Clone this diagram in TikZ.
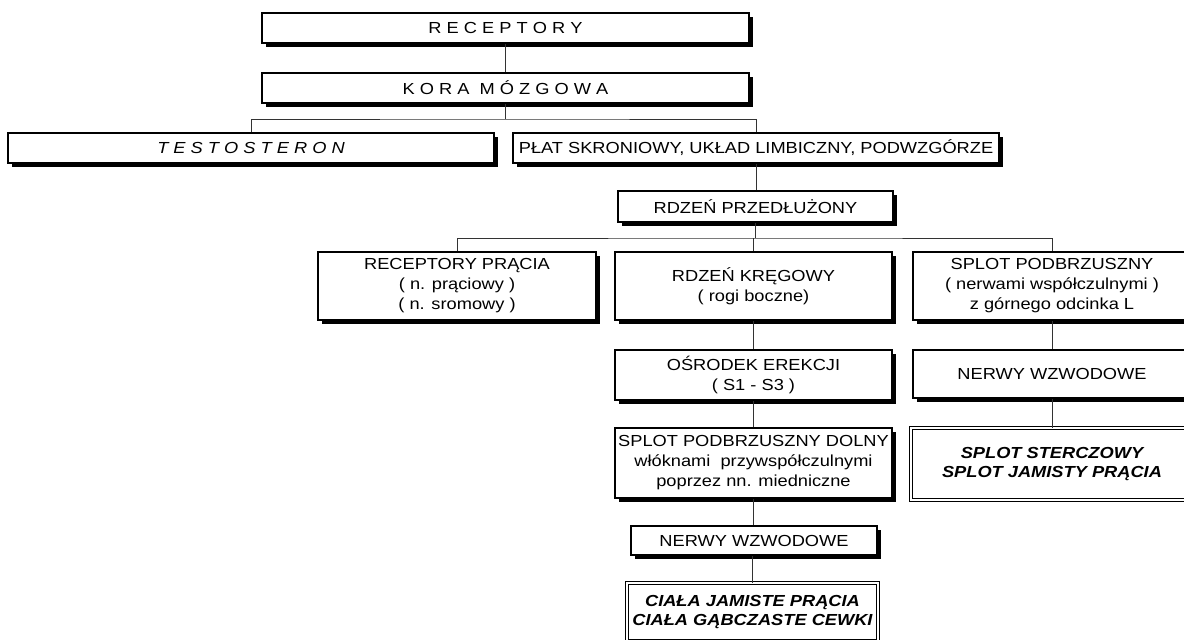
\documentclass[tikz,border=0pt]{standalone}
\usepackage{fontspec}
\setmainfont{Liberation Sans}[FakeStretch=1.14]
\usetikzlibrary{shadows}
\tikzset{
  box/.style={draw, line width=1.5pt, fill=white, inner sep=0pt, align=center,
    font=\fontsize{16}{20}\selectfont,
    drop shadow={shadow xshift=4pt, shadow yshift=-4pt, fill=black, opacity=1}},
  dbox/.style={draw, double, double distance=2pt, line width=1pt, fill=white,
    inner sep=0pt, align=center, font=\fontsize{16}{19.5}\selectfont\bfseries\itshape},
  link/.style={line width=0.8pt, draw=black!80}
}
\begin{document}
\begin{tikzpicture}[x=1pt,y=-1pt]
\useasboundingbox (0,0) rectangle (1184,640);
\node[box, minimum width=487pt, minimum height=30pt] (rec) at (505.5,28) {R E C E P T O R Y};
\node[box, minimum width=487pt, minimum height=30pt] (kora) at (505.5,88) {K O R A \ M Ó Z G O W A};
\node[box, minimum width=486pt, minimum height=30pt] (test) at (251,148) {\itshape T E S T O S T E R O N};
\node[box, minimum width=486pt, minimum height=30pt] (plat) at (756,148) {PŁAT SKRONIOWY, UKŁAD LIMBICZNY, PODWZGÓRZE};
\node[box, minimum width=275pt, minimum height=31pt] (rdzp) at (755.5,206.5) {RDZEŃ PRZEDŁUŻONY};
\node[box, minimum width=278pt, minimum height=68pt] (recp) at (457,286) {RECEPTORY PRĄCIA\\( n. prąciowy )\\( n. sromowy )};
\node[box, minimum width=277pt, minimum height=68pt] (rdzk) at (753.5,286) {RDZEŃ KRĘGOWY\\( rogi boczne)};
\node[box, minimum width=278pt, minimum height=68pt] (splot) at (1052,286) {SPLOT PODBRZUSZNY\\( nerwami współczulnymi )\\z górnego odcinka L};
\node[box, minimum width=277pt, minimum height=50pt] (osr) at (753.5,375) {OŚRODEK EREKCJI\\( S1 - S3 )};
\node[box, minimum width=278pt, minimum height=48pt] (nerwb) at (1052,374) {NERWY WZWODOWE};
\node[box, minimum width=277pt, minimum height=70pt] (spd) at (753.5,463) {SPLOT PODBRZUSZNY DOLNY\\włóknami\ \ przywspółczulnymi\\poprzez nn. miedniczne};
\node[dbox, minimum width=282pt, minimum height=72pt] (ster) at (1052,464) {SPLOT STERCZOWY\\SPLOT JAMISTY PRĄCIA};
\node[box, minimum width=246pt, minimum height=29pt] (nerwa) at (754,540.5) {NERWY WZWODOWE};
\node[dbox, minimum width=251pt, minimum height=58pt] (ciala) at (752.5,612) {CIAŁA JAMISTE PRĄCIA\\CIAŁA GĄBCZASTE CEWKI};
\coordinate (j1) at (505.5,119);
\coordinate (j2) at (755.5,238);
\draw[link] (rec) -- (kora);
\draw[link] (kora.south) -- (j1);
\draw[link] (test.north) |- (j1) -| (plat.north);
\draw[link] (plat.south) -- (rdzp.north -| plat.south);
\draw[link] (rdzp.south) -- (j2);
\draw[link] (recp.north) |- (j2) -| (splot.north);
\draw[link] (rdzk.north |- j2) -- (rdzk.north);
\draw[link] (rdzk) -- (osr);
\draw[link] (osr) -- (spd);
\draw[link] (spd.south) -- (nerwa.north -| spd.south);
\draw[link] (nerwa.south -| ciala.north) -- (ciala.north);
\draw[link] (splot) -- (nerwb);
\draw[link] (nerwb) -- (ster);
\end{tikzpicture}
\end{document}
